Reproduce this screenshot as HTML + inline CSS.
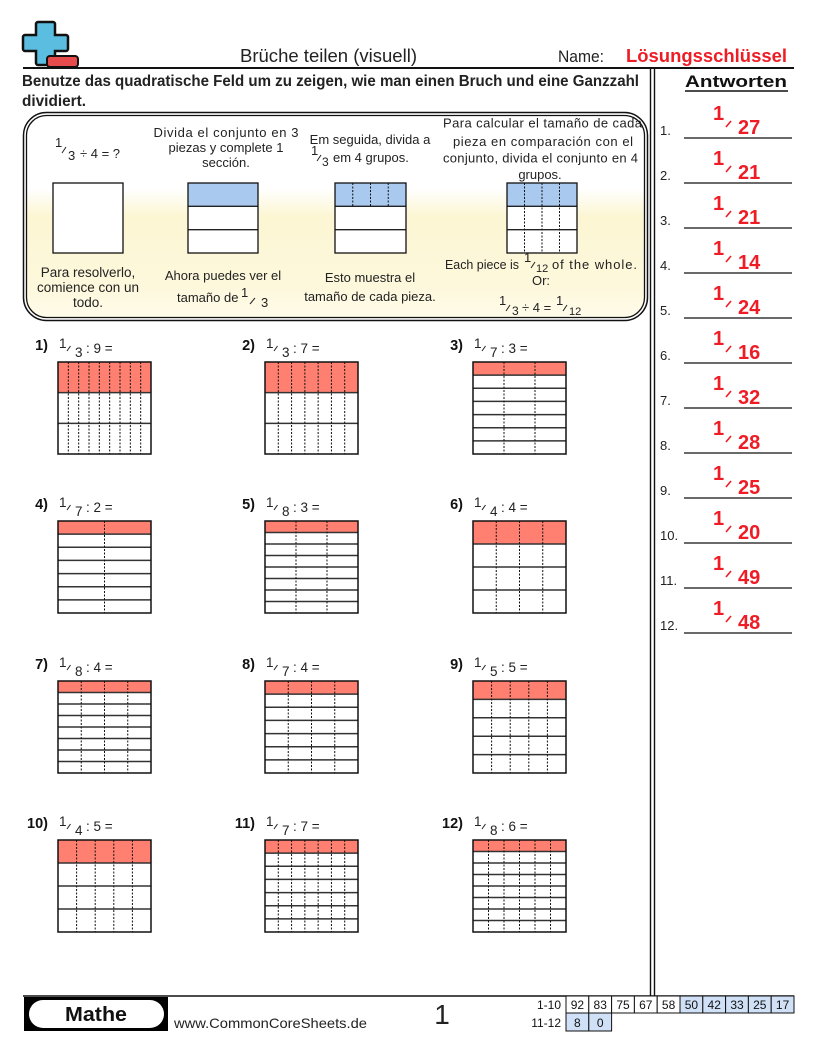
<!DOCTYPE html>
<html><head><meta charset="utf-8"><style>html,body{margin:0;padding:0;background:#fff}svg{display:block}</style></head>
<body>
<svg width="816" height="1056" viewBox="0 0 816 1056" xmlns="http://www.w3.org/2000/svg" font-family="'Liberation Sans', sans-serif" fill="#222">
<defs>
<linearGradient id="bg" x1="0" y1="0" x2="0" y2="1">
<stop offset="0" stop-color="#ffffff"/><stop offset="0.36" stop-color="#ffffff"/><stop offset="0.5" stop-color="#fcf6d3"/><stop offset="0.85" stop-color="#fdf8dc"/><stop offset="1" stop-color="#fefbea"/>
</linearGradient>
</defs>

<!-- logo -->
<path d="M38,22 h15 a2,2 0 0 1 2,2 v11 h11 a2,2 0 0 1 2,2 v12 a2,2 0 0 1 -2,2 h-11 v12 a2,2 0 0 1 -2,2 h-15 a2,2 0 0 1 -2,-2 v-12 h-11 a2,2 0 0 1 -2,-2 v-12 a2,2 0 0 1 2,-2 h11 v-11 a2,2 0 0 1 2,-2 z" fill="#5bbde0" stroke="#111" stroke-width="2.5"/>
<rect x="47" y="56" width="31" height="11" rx="3" fill="#e84b4b" stroke="#111" stroke-width="2"/>

<!-- header -->
<text x="240" y="62" font-size="18" textLength="177" lengthAdjust="spacingAndGlyphs">Brüche teilen (visuell)</text>
<text x="558" y="62" font-size="17" textLength="46" lengthAdjust="spacingAndGlyphs">Name:</text>
<text x="626" y="62" font-size="18" font-weight="bold" fill="#ee1c25" textLength="161" lengthAdjust="spacingAndGlyphs">Lösungsschlüssel</text>
<line x1="23" y1="68" x2="794" y2="68" stroke="#111" stroke-width="2"/>

<text x="22" y="86" font-size="15.5" font-weight="bold" textLength="617" lengthAdjust="spacingAndGlyphs">Benutze das quadratische Feld um zu zeigen, wie man einen Bruch und eine Ganzzahl</text>
<text x="22" y="106" font-size="15.5" font-weight="bold" textLength="64" lengthAdjust="spacingAndGlyphs">dividiert.</text>

<!-- vertical double line -->
<line x1="650.5" y1="69" x2="650.5" y2="996" stroke="#111" stroke-width="1.4"/>
<line x1="654.5" y1="69" x2="654.5" y2="996" stroke="#111" stroke-width="1.4"/>

<!-- example box -->
<rect x="23.5" y="112.5" width="624" height="208" rx="23" fill="none" stroke="#111" stroke-width="1.5"/>
<rect x="26.5" y="115.5" width="618" height="202" rx="20" fill="url(#bg)" stroke="#111" stroke-width="1.3"/>

<g font-size="13" fill="#222">
<!-- col1 -->
<text x="55" y="147">1</text>
<line x1="62" y1="153" x2="66" y2="147" stroke="#222" stroke-width="1"/>
<text x="68" y="160">3</text>
<text x="80" y="158">÷ 4 = ?</text>
<rect x="53" y="183" width="70" height="70" fill="#fff" stroke="#111" stroke-width="1.3"/>
<text x="88" y="277" text-anchor="middle" font-size="13.5">Para resolverlo,</text>
<text x="88" y="292" text-anchor="middle" font-size="13.5">comience con un</text>
<text x="88" y="307" text-anchor="middle" font-size="13.5">todo.</text>

<!-- col2 -->
<text x="226" y="137" text-anchor="middle" textLength="145" lengthAdjust="spacing">Divida el conjunto en 3</text>
<text x="226" y="152" text-anchor="middle">piezas y complete 1</text>
<text x="226" y="167" text-anchor="middle">sección.</text>
<rect x="188" y="183" width="70" height="70" fill="#fff"/>
<rect x="188" y="183" width="70" height="23.3" fill="#a9c9ee"/>
<path d="M188,206.3 H258 M188,229.7 H258" stroke="#222" stroke-width="1.3"/>
<rect x="188" y="183" width="70" height="70" fill="none" stroke="#111" stroke-width="1.3"/>
<text x="223" y="280" text-anchor="middle">Ahora puedes ver el</text>
<text x="177" y="302">tamaño de</text>
<text x="241" y="297">1</text>
<line x1="250" y1="304" x2="255" y2="298" stroke="#222" stroke-width="1"/>
<text x="261" y="307">3</text>

<!-- col3 -->
<text x="370" y="144" text-anchor="middle">Em seguida, divida a</text>
<text x="311" y="155">1</text>
<line x1="317" y1="161" x2="321" y2="155" stroke="#222" stroke-width="1"/>
<text x="322" y="166" font-size="12">3</text>
<text x="333" y="162">em 4 grupos.</text>
<rect x="335" y="183" width="71" height="70" fill="#fff"/>
<rect x="335" y="183" width="71" height="23.3" fill="#a9c9ee"/>
<path d="M335,206.3 H406 M335,229.7 H406" stroke="#222" stroke-width="1.3"/>
<path d="M352.75,183 V206 M370.5,183 V206 M388.25,183 V206" stroke="#111" stroke-width="1" stroke-dasharray="2,1.5"/>
<rect x="335" y="183" width="71" height="70" fill="none" stroke="#111" stroke-width="1.3"/>
<text x="370" y="282" text-anchor="middle">Esto muestra el</text>
<text x="370" y="301" text-anchor="middle">tamaño de cada pieza.</text>

<!-- col4 -->
<text x="542.5" y="127.5" text-anchor="middle" textLength="199" lengthAdjust="spacing">Para calcular el tamaño de cada</text>
<text x="543" y="146" text-anchor="middle" textLength="180" lengthAdjust="spacing">pieza en comparación con el</text>
<text x="540.5" y="162.5" text-anchor="middle" textLength="195" lengthAdjust="spacing">conjunto, divida el conjunto en 4</text>
<text x="540" y="179" text-anchor="middle">grupos.</text>
<rect x="507" y="183" width="70" height="70" fill="#fff"/>
<rect x="507" y="183" width="70" height="23.3" fill="#a9c9ee"/>
<path d="M507,206.3 H577 M507,229.7 H577" stroke="#222" stroke-width="1.3"/>
<path d="M524.5,183 V253 M542,183 V253 M559.5,183 V253" stroke="#111" stroke-width="1" stroke-dasharray="2,1.5"/>
<rect x="507" y="183" width="70" height="70" fill="none" stroke="#111" stroke-width="1.3"/>
<text x="445" y="269" textLength="74" lengthAdjust="spacingAndGlyphs">Each piece is</text>
<text x="524" y="262">1</text>
<line x1="531" y1="268" x2="535" y2="262" stroke="#222" stroke-width="1"/>
<text x="536" y="272" font-size="11">12</text>
<text x="552" y="269" textLength="85" lengthAdjust="spacing">of the whole.</text>
<text x="541" y="285" text-anchor="middle">Or:</text>
<text x="499" y="305">1</text>
<line x1="506" y1="311" x2="510" y2="305" stroke="#222" stroke-width="1"/>
<text x="512" y="315" font-size="12">3</text>
<text x="522" y="312">÷ 4 =</text>
<text x="556" y="305">1</text>
<line x1="563" y1="311" x2="567" y2="305" stroke="#222" stroke-width="1"/>
<text x="569" y="315" font-size="11">12</text>
</g>

<!-- problems -->
<g font-size="13.5">
<g transform="translate(58,362)">
<text x="-10" y="-12" text-anchor="end" font-weight="bold" font-size="14.5" fill="#111">1)</text>
<text x="1" y="-14">1</text><line x1="9" y1="-11" x2="12.5" y2="-16" stroke="#222" stroke-width="1"/><text x="17" y="-5">3</text><text x="28" y="-9">: 9 =</text>
<rect width="93" height="92" fill="#fff"/><rect width="93" height="30.67" fill="#ff8070"/>
<path d="M0,30.67H93M0,61.33H93" stroke="#333" stroke-width="1.5"/>
<path d="M10.33,0V92M20.67,0V92M31,0V92M41.33,0V92M51.67,0V92M62,0V92M72.33,0V92M82.67,0V92" stroke="#111" stroke-width="1" stroke-dasharray="2,1.5"/>
<rect width="93" height="92" fill="none" stroke="#111" stroke-width="1.5"/>
</g>
<g transform="translate(265,362)">
<text x="-10" y="-12" text-anchor="end" font-weight="bold" font-size="14.5" fill="#111">2)</text>
<text x="1" y="-14">1</text><line x1="9" y1="-11" x2="12.5" y2="-16" stroke="#222" stroke-width="1"/><text x="17" y="-5">3</text><text x="28" y="-9">: 7 =</text>
<rect width="93" height="92" fill="#fff"/><rect width="93" height="30.67" fill="#ff8070"/>
<path d="M0,30.67H93M0,61.33H93" stroke="#333" stroke-width="1.5"/>
<path d="M13.29,0V92M26.57,0V92M39.86,0V92M53.14,0V92M66.43,0V92M79.71,0V92" stroke="#111" stroke-width="1" stroke-dasharray="2,1.5"/>
<rect width="93" height="92" fill="none" stroke="#111" stroke-width="1.5"/>
</g>
<g transform="translate(473,362)">
<text x="-10" y="-12" text-anchor="end" font-weight="bold" font-size="14.5" fill="#111">3)</text>
<text x="1" y="-14">1</text><line x1="9" y1="-11" x2="12.5" y2="-16" stroke="#222" stroke-width="1"/><text x="17" y="-5">7</text><text x="28" y="-9">: 3 =</text>
<rect width="93" height="92" fill="#fff"/><rect width="93" height="13.14" fill="#ff8070"/>
<path d="M0,13.14H93M0,26.29H93M0,39.43H93M0,52.57H93M0,65.71H93M0,78.86H93" stroke="#333" stroke-width="1.5"/>
<path d="M31,0V92M62,0V92" stroke="#111" stroke-width="1" stroke-dasharray="2,1.5"/>
<rect width="93" height="92" fill="none" stroke="#111" stroke-width="1.5"/>
</g>
<g transform="translate(58,521)">
<text x="-10" y="-12" text-anchor="end" font-weight="bold" font-size="14.5" fill="#111">4)</text>
<text x="1" y="-14">1</text><line x1="9" y1="-11" x2="12.5" y2="-16" stroke="#222" stroke-width="1"/><text x="17" y="-5">7</text><text x="28" y="-9">: 2 =</text>
<rect width="93" height="92" fill="#fff"/><rect width="93" height="13.14" fill="#ff8070"/>
<path d="M0,13.14H93M0,26.29H93M0,39.43H93M0,52.57H93M0,65.71H93M0,78.86H93" stroke="#333" stroke-width="1.5"/>
<path d="M46.5,0V92" stroke="#111" stroke-width="1" stroke-dasharray="2,1.5"/>
<rect width="93" height="92" fill="none" stroke="#111" stroke-width="1.5"/>
</g>
<g transform="translate(265,521)">
<text x="-10" y="-12" text-anchor="end" font-weight="bold" font-size="14.5" fill="#111">5)</text>
<text x="1" y="-14">1</text><line x1="9" y1="-11" x2="12.5" y2="-16" stroke="#222" stroke-width="1"/><text x="17" y="-5">8</text><text x="28" y="-9">: 3 =</text>
<rect width="93" height="92" fill="#fff"/><rect width="93" height="11.5" fill="#ff8070"/>
<path d="M0,11.5H93M0,23H93M0,34.5H93M0,46H93M0,57.5H93M0,69H93M0,80.5H93" stroke="#333" stroke-width="1.5"/>
<path d="M31,0V92M62,0V92" stroke="#111" stroke-width="1" stroke-dasharray="2,1.5"/>
<rect width="93" height="92" fill="none" stroke="#111" stroke-width="1.5"/>
</g>
<g transform="translate(473,521)">
<text x="-10" y="-12" text-anchor="end" font-weight="bold" font-size="14.5" fill="#111">6)</text>
<text x="1" y="-14">1</text><line x1="9" y1="-11" x2="12.5" y2="-16" stroke="#222" stroke-width="1"/><text x="17" y="-5">4</text><text x="28" y="-9">: 4 =</text>
<rect width="93" height="92" fill="#fff"/><rect width="93" height="23" fill="#ff8070"/>
<path d="M0,23H93M0,46H93M0,69H93" stroke="#333" stroke-width="1.5"/>
<path d="M23.25,0V92M46.5,0V92M69.75,0V92" stroke="#111" stroke-width="1" stroke-dasharray="2,1.5"/>
<rect width="93" height="92" fill="none" stroke="#111" stroke-width="1.5"/>
</g>
<g transform="translate(58,681)">
<text x="-10" y="-12" text-anchor="end" font-weight="bold" font-size="14.5" fill="#111">7)</text>
<text x="1" y="-14">1</text><line x1="9" y1="-11" x2="12.5" y2="-16" stroke="#222" stroke-width="1"/><text x="17" y="-5">8</text><text x="28" y="-9">: 4 =</text>
<rect width="93" height="92" fill="#fff"/><rect width="93" height="11.5" fill="#ff8070"/>
<path d="M0,11.5H93M0,23H93M0,34.5H93M0,46H93M0,57.5H93M0,69H93M0,80.5H93" stroke="#333" stroke-width="1.5"/>
<path d="M23.25,0V92M46.5,0V92M69.75,0V92" stroke="#111" stroke-width="1" stroke-dasharray="2,1.5"/>
<rect width="93" height="92" fill="none" stroke="#111" stroke-width="1.5"/>
</g>
<g transform="translate(265,681)">
<text x="-10" y="-12" text-anchor="end" font-weight="bold" font-size="14.5" fill="#111">8)</text>
<text x="1" y="-14">1</text><line x1="9" y1="-11" x2="12.5" y2="-16" stroke="#222" stroke-width="1"/><text x="17" y="-5">7</text><text x="28" y="-9">: 4 =</text>
<rect width="93" height="92" fill="#fff"/><rect width="93" height="13.14" fill="#ff8070"/>
<path d="M0,13.14H93M0,26.29H93M0,39.43H93M0,52.57H93M0,65.71H93M0,78.86H93" stroke="#333" stroke-width="1.5"/>
<path d="M23.25,0V92M46.5,0V92M69.75,0V92" stroke="#111" stroke-width="1" stroke-dasharray="2,1.5"/>
<rect width="93" height="92" fill="none" stroke="#111" stroke-width="1.5"/>
</g>
<g transform="translate(473,681)">
<text x="-10" y="-12" text-anchor="end" font-weight="bold" font-size="14.5" fill="#111">9)</text>
<text x="1" y="-14">1</text><line x1="9" y1="-11" x2="12.5" y2="-16" stroke="#222" stroke-width="1"/><text x="17" y="-5">5</text><text x="28" y="-9">: 5 =</text>
<rect width="93" height="92" fill="#fff"/><rect width="93" height="18.4" fill="#ff8070"/>
<path d="M0,18.4H93M0,36.8H93M0,55.2H93M0,73.6H93" stroke="#333" stroke-width="1.5"/>
<path d="M18.6,0V92M37.2,0V92M55.8,0V92M74.4,0V92" stroke="#111" stroke-width="1" stroke-dasharray="2,1.5"/>
<rect width="93" height="92" fill="none" stroke="#111" stroke-width="1.5"/>
</g>
<g transform="translate(58,840)">
<text x="-10" y="-12" text-anchor="end" font-weight="bold" font-size="14.5" fill="#111">10)</text>
<text x="1" y="-14">1</text><line x1="9" y1="-11" x2="12.5" y2="-16" stroke="#222" stroke-width="1"/><text x="17" y="-5">4</text><text x="28" y="-9">: 5 =</text>
<rect width="93" height="92" fill="#fff"/><rect width="93" height="23" fill="#ff8070"/>
<path d="M0,23H93M0,46H93M0,69H93" stroke="#333" stroke-width="1.5"/>
<path d="M18.6,0V92M37.2,0V92M55.8,0V92M74.4,0V92" stroke="#111" stroke-width="1" stroke-dasharray="2,1.5"/>
<rect width="93" height="92" fill="none" stroke="#111" stroke-width="1.5"/>
</g>
<g transform="translate(265,840)">
<text x="-10" y="-12" text-anchor="end" font-weight="bold" font-size="14.5" fill="#111">11)</text>
<text x="1" y="-14">1</text><line x1="9" y1="-11" x2="12.5" y2="-16" stroke="#222" stroke-width="1"/><text x="17" y="-5">7</text><text x="28" y="-9">: 7 =</text>
<rect width="93" height="92" fill="#fff"/><rect width="93" height="13.14" fill="#ff8070"/>
<path d="M0,13.14H93M0,26.29H93M0,39.43H93M0,52.57H93M0,65.71H93M0,78.86H93" stroke="#333" stroke-width="1.5"/>
<path d="M13.29,0V92M26.57,0V92M39.86,0V92M53.14,0V92M66.43,0V92M79.71,0V92" stroke="#111" stroke-width="1" stroke-dasharray="2,1.5"/>
<rect width="93" height="92" fill="none" stroke="#111" stroke-width="1.5"/>
</g>
<g transform="translate(473,840)">
<text x="-10" y="-12" text-anchor="end" font-weight="bold" font-size="14.5" fill="#111">12)</text>
<text x="1" y="-14">1</text><line x1="9" y1="-11" x2="12.5" y2="-16" stroke="#222" stroke-width="1"/><text x="17" y="-5">8</text><text x="28" y="-9">: 6 =</text>
<rect width="93" height="92" fill="#fff"/><rect width="93" height="11.5" fill="#ff8070"/>
<path d="M0,11.5H93M0,23H93M0,34.5H93M0,46H93M0,57.5H93M0,69H93M0,80.5H93" stroke="#333" stroke-width="1.5"/>
<path d="M15.5,0V92M31,0V92M46.5,0V92M62,0V92M77.5,0V92" stroke="#111" stroke-width="1" stroke-dasharray="2,1.5"/>
<rect width="93" height="92" fill="none" stroke="#111" stroke-width="1.5"/>
</g>
</g>

<!-- answers -->
<text x="685" y="87" font-size="17" font-weight="bold" fill="#111" textLength="102" lengthAdjust="spacingAndGlyphs">Antworten</text>
<line x1="685" y1="91" x2="788" y2="91" stroke="#111" stroke-width="1.5"/>

<g font-size="13" fill="#222">
<text x="660" y="135">1.</text><text x="660" y="180">2.</text><text x="660" y="225">3.</text><text x="660" y="270">4.</text>
<text x="660" y="315">5.</text><text x="660" y="360">6.</text><text x="660" y="405">7.</text><text x="660" y="450">8.</text>
<text x="660" y="495">9.</text><text x="660" y="540">10.</text><text x="660" y="585">11.</text><text x="660" y="630">12.</text>
</g>
<path d="M684,138H792M684,183H792M684,228H792M684,273H792M684,318H792M684,363H792M684,408H792M684,453H792M684,498H792M684,543H792M684,588H792M684,633H792" stroke="#111" stroke-width="1.3"/>
<g font-size="20" font-weight="bold" fill="#ee1c25">
<text x="713" y="120">1</text><text x="738" y="134">27</text>
<text x="713" y="165">1</text><text x="738" y="179">21</text>
<text x="713" y="210">1</text><text x="738" y="224">21</text>
<text x="713" y="255">1</text><text x="738" y="269">14</text>
<text x="713" y="300">1</text><text x="738" y="314">24</text>
<text x="713" y="345">1</text><text x="738" y="359">16</text>
<text x="713" y="390">1</text><text x="738" y="404">32</text>
<text x="713" y="435">1</text><text x="738" y="449">28</text>
<text x="713" y="480">1</text><text x="738" y="494">25</text>
<text x="713" y="525">1</text><text x="738" y="539">20</text>
<text x="713" y="570">1</text><text x="738" y="584">49</text>
<text x="713" y="615">1</text><text x="738" y="629">48</text>
</g>
<path d="M726,127L731,121M726,172L731,166M726,217L731,211M726,262L731,256M726,307L731,301M726,352L731,346M726,397L731,391M726,442L731,436M726,487L731,481M726,532L731,526M726,577L731,571M726,622L731,616" stroke="#ee1c25" stroke-width="1.6"/>

<!-- footer -->
<line x1="23" y1="996" x2="794" y2="996" stroke="#111" stroke-width="1.5"/>
<rect x="24" y="997" width="144" height="34" fill="#000"/>
<rect x="29" y="1000" width="135" height="28" rx="14" fill="#fff"/>
<text x="65" y="1021" font-size="20" font-weight="bold" fill="#111" textLength="62" lengthAdjust="spacingAndGlyphs">Mathe</text>
<text x="174" y="1028" font-size="14" fill="#222" textLength="193" lengthAdjust="spacingAndGlyphs">www.CommonCoreSheets.de</text>
<text x="442" y="1024" font-size="28" fill="#222" text-anchor="middle">1</text>

<g font-size="12" fill="#111">
<text x="561" y="1009" text-anchor="end">1-10</text>
<text x="561" y="1027" text-anchor="end">11-12</text>
</g>
<g stroke="#111" stroke-width="1">
<rect x="566" y="996" width="22.8" height="17" fill="#fff"/>
<rect x="588.8" y="996" width="22.8" height="17" fill="#fff"/>
<rect x="611.6" y="996" width="22.8" height="17" fill="#fff"/>
<rect x="634.4" y="996" width="22.8" height="17" fill="#fff"/>
<rect x="657.2" y="996" width="22.8" height="17" fill="#fff"/>
<rect x="680" y="996" width="22.8" height="17" fill="#cfe0f7"/>
<rect x="702.8" y="996" width="22.8" height="17" fill="#cfe0f7"/>
<rect x="725.6" y="996" width="22.8" height="17" fill="#cfe0f7"/>
<rect x="748.4" y="996" width="22.8" height="17" fill="#cfe0f7"/>
<rect x="771.2" y="996" width="22.8" height="17" fill="#cfe0f7"/>
<rect x="566" y="1013" width="22.8" height="18" fill="#cfe0f7"/>
<rect x="588.8" y="1013" width="22.8" height="18" fill="#cfe0f7"/>
</g>
<g font-size="12" fill="#111" text-anchor="middle">
<text x="577.4" y="1009">92</text><text x="600.2" y="1009">83</text><text x="623" y="1009">75</text><text x="645.8" y="1009">67</text><text x="668.6" y="1009">58</text>
<text x="691.4" y="1009">50</text><text x="714.2" y="1009">42</text><text x="737" y="1009">33</text><text x="759.8" y="1009">25</text><text x="782.6" y="1009">17</text>
<text x="577.4" y="1027">8</text><text x="600.2" y="1027">0</text>
</g>
</svg>
</body></html>
